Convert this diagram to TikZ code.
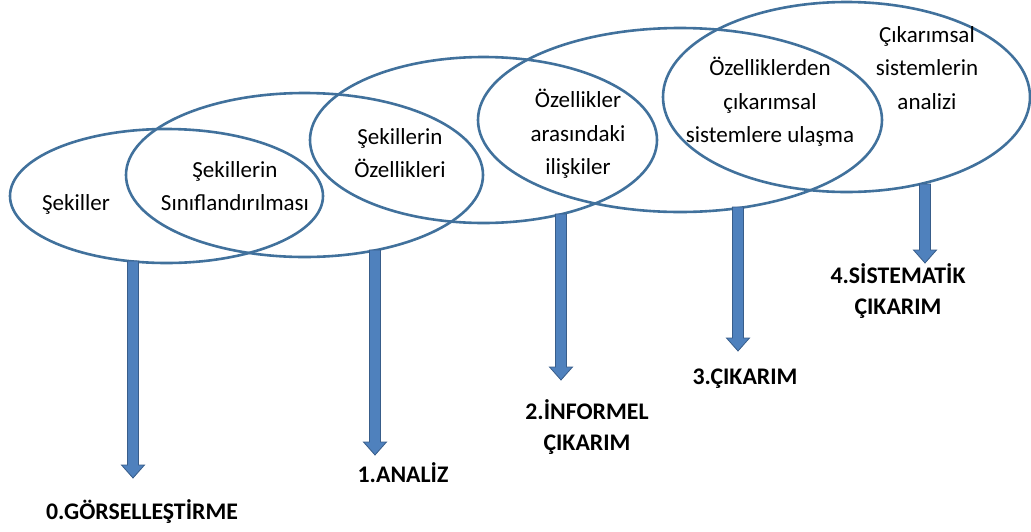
\documentclass[tikz,border=0pt]{standalone}
\usepackage{fontspec}
\setmainfont{Carlito}
\usetikzlibrary{shapes.geometric,calc}
\definecolor{ellblue}{HTML}{41719C}
\definecolor{arrfill}{HTML}{4F81BD}
\definecolor{arrline}{HTML}{385D8A}
\begin{document}
\begin{tikzpicture}[x=1pt,y=-1pt,
  ell/.style={ellipse, draw=ellblue, line width=2.6pt, inner sep=0pt, outer sep=0pt},
  lbl/.style={font=\fontsize{23}{33.5}\selectfont, align=center, text=black, inner sep=0pt},
  lvl/.style={font=\bfseries\fontsize{23.8}{31.5}\selectfont, align=center, text=black, inner sep=0pt},
  blockarrow/.style={draw=arrline, fill=arrfill, line width=0.8pt, line join=miter,
    to path={let \p1=(\tikztostart), \p2=(\tikztotarget) in
      (\x1-5.5pt,\y1) -- (\x1+5.5pt,\y1) -- (\x1+5.5pt,\y2+13pt) -- (\x1+11.5pt,\y2+13pt)
      -- (\x2,\y2) -- (\x1-11.5pt,\y2+13pt) -- (\x1-5.5pt,\y2+13pt) -- cycle}}]
\useasboundingbox (0,0) rectangle (1031,531);

% ellipses
\node[ell, minimum width=313pt, minimum height=134pt] (e0) at (166.5,196) {};
\node[ell, minimum width=357pt, minimum height=164pt] (e1) at (304.5,175) {};
\node[ell, minimum width=347pt, minimum height=166pt] (e2) at (483.5,140) {};
\node[ell, minimum width=404pt, minimum height=184pt] (e3) at (680,120) {};
\node[ell, minimum width=367pt, minimum height=190pt] (e4) at (846.5,97) {};

% arrow end points
\coordinate (s0) at (133,261);
\coordinate (h0) at (133,478);
\coordinate (s1) at (375,250);
\coordinate (h1) at (375,455);
\coordinate (s2) at (561,214);
\coordinate (h2) at (561,380);
\coordinate (s3) at (738,207);
\coordinate (h3) at (738,351);
\coordinate (s4) at (925,184);
\coordinate (h4) at (925,263);

\draw[blockarrow] (s0) to (h0);
\draw[blockarrow] (s1) to (h1);
\draw[blockarrow] (s2) to (h2);
\draw[blockarrow] (s3) to (h3);
\draw[blockarrow] (s4) to (h4);

% ellipse texts
\node[lbl] (t0) at (76,204) {Şekiller};
\node[lbl] (t1) at (235,186) {Şekillerin\\Sınıflandırılması};
\node[lbl] (t2) at (400,153) {Şekillerin\\Özellikleri};
\node[lbl] (t3) at (578,134) {Özellikler\\arasındaki\\ilişkiler};
\node[lbl] (t4) at (770,102) {Özelliklerden\\çıkarımsal\\sistemlere ulaşma};
\node[lbl] (t5) at (927,68) {Çıkarımsal\\sistemlerin\\analizi};

% level labels
\node[lvl] (l0) at (142,512) {0.GÖRSELLEŞTİRME};
\node[lvl] (l1) at (403,473) {1.ANALİZ};
\node[lvl] (l2) at (587,427) {2.İNFORMEL\\ÇIKARIM};
\node[lvl] (l3) at (745,379) {3.ÇIKARIM};
\node[lvl] (l4) at (898,291) {4.SİSTEMATİK\\ÇIKARIM};
\end{tikzpicture}
\end{document}
